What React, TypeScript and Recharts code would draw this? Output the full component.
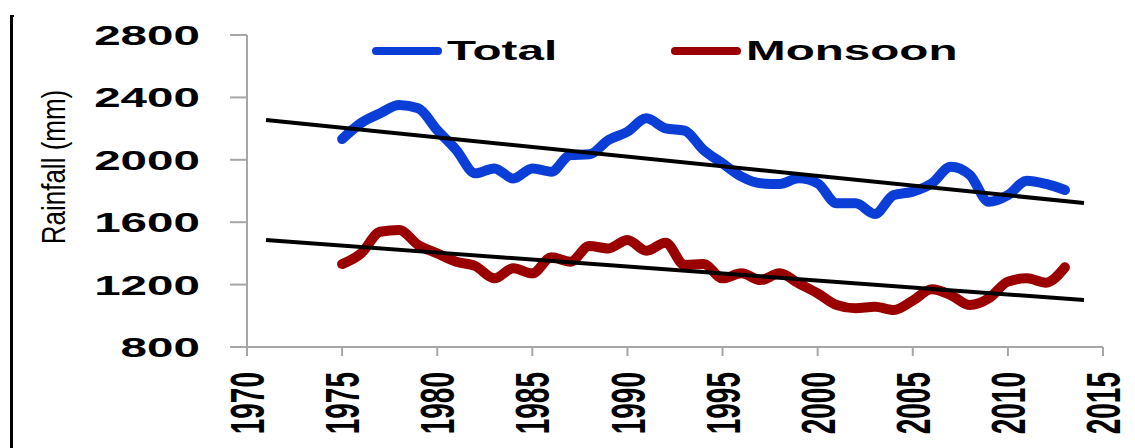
import { LineChart, Line, XAxis, YAxis, Legend } from 'recharts'

// ── Data ────────────────────────────────────────────────────────────────────

const years = [
  1975, 1976, 1977, 1978, 1979, 1980, 1981, 1982, 1983, 1984,
  1985, 1986, 1987, 1988, 1989, 1990, 1991, 1992, 1993, 1994,
  1995, 1996, 1997, 1998, 1999, 2000, 2001, 2002, 2003, 2004,
  2005, 2006, 2007, 2008, 2009, 2010, 2011, 2012, 2013,
]

const totalRain = [
  2133, 2236, 2298, 2351, 2330, 2190, 2063, 1913, 1945, 1880,
  1945, 1924, 2031, 2035, 2127, 2180, 2266, 2202, 2187, 2063,
  1977, 1892, 1849, 1845, 1881, 1849, 1721, 1721, 1653, 1774,
  1796, 1849, 1956, 1903, 1731, 1774, 1866, 1845, 1806,
]

const monsoonRain = [
  1332, 1400, 1539, 1550, 1454, 1400, 1347, 1319, 1240, 1305,
  1272, 1375, 1347, 1447, 1432, 1486, 1417, 1469, 1326, 1332,
  1240, 1272, 1229, 1272, 1208, 1144, 1069, 1048, 1058, 1037,
  1097, 1170, 1133, 1069, 1112, 1219, 1240, 1212, 1311,
]

const trendYears = [1971, 2014]
const totalTrend = [2255, 1723]
const monsoonTrend = [1486, 1101]

const xTicks = [1970, 1975, 1980, 1985, 1990, 1995, 2000, 2005, 2010, 2015]
const yTicks = [800, 1200, 1600, 2000, 2400, 2800]

const data = years.map((year, i) => ({ year, total: totalRain[i], monsoon: monsoonRain[i] }))
const totalTrendData = trendYears.map((year, i) => ({ year, value: totalTrend[i] }))
const monsoonTrendData = trendYears.map((year, i) => ({ year, value: monsoonTrend[i] }))

// ── Styling ─────────────────────────────────────────────────────────────────

const FONT = "'Liberation Sans', Arial, sans-serif"
const STRETCH = 1.7
const AXIS = '#a6a6a6'
const BLUE = '#0a3ed6'
const RED = '#9a0000'

// eslint-disable-next-line @typescript-eslint/no-explicit-any
const YTick = ({ x, y, payload }: any) => (
  <g transform={`translate(${x},${y}) scale(${STRETCH},1)`}>
    <text x={0} y={0} dy="0.36em" textAnchor="end" fontFamily={FONT} fontWeight="bold" fontSize={28} fill="#000">
      {payload.value}
    </text>
  </g>
)

// eslint-disable-next-line @typescript-eslint/no-explicit-any
const XTick = ({ x, y, payload }: any) => (
  <g transform={`translate(${x},${y}) scale(${STRETCH},1) rotate(-90)`}>
    <text x={0} y={0} dy="0.36em" textAnchor="end" fontFamily={FONT} fontWeight="bold" fontSize={28} fill="#000">
      {payload.value}
    </text>
  </g>
)

const YLabel = () => (
  <g transform="translate(53,167) scale(1.3,1) rotate(-90)">
    <text x={0} y={0} dy="0.36em" textAnchor="middle" fontFamily={FONT} fontSize={26} fill="#000">
      Rainfall (mm)
    </text>
  </g>
)

const legendKeys = ['total', 'monsoon']
const legendLeft = [372, 671]

// eslint-disable-next-line @typescript-eslint/no-explicit-any
const LegendContent = ({ payload }: any) => {
  // trend lines are left out of the legend
  // eslint-disable-next-line @typescript-eslint/no-explicit-any
  const items = (payload || []).filter((p: any) => legendKeys.includes(p.dataKey))
  return (
    <div style={{ position: 'relative', width: 1135, height: 80 }}>
      {/* eslint-disable-next-line @typescript-eslint/no-explicit-any */}
      {items.map((p: any) => {
        const idx = legendKeys.indexOf(p.dataKey)
        return (
          <div key={p.dataKey} style={{ position: 'absolute', left: legendLeft[idx], top: 36, height: 30, display: 'flex', alignItems: 'center' }}>
            <span style={{ display: 'inline-block', width: 70, height: 8, borderRadius: 4, background: p.color }} />
            <span
              style={{
                display: 'inline-block', marginLeft: 5, fontFamily: FONT, fontWeight: 'bold', fontSize: 28,
                color: '#000', transform: `scaleX(${STRETCH})`, transformOrigin: 'left center', whiteSpace: 'nowrap',
              }}
            >
              {p.value}
            </span>
          </div>
        )
      })}
    </div>
  )
}

// ── Component ───────────────────────────────────────────────────────────────

export default function App() {
  return (
    <div style={{ position: 'absolute', left: 0, top: 0, width: 1135, height: 448, background: '#fff' }}>
      <div style={{ position: 'absolute', left: 10, top: 15, width: 4, height: 433, borderLeft: '3px solid #000', borderTop: '2px solid #000', boxSizing: 'border-box' }} />
      <LineChart width={1135} height={448} data={data} margin={{ top: 35, right: 32, bottom: 0, left: 0 }}>
        <XAxis
          dataKey="year"
          type="number"
          domain={[1970, 2015]}
          ticks={xTicks}
          interval={0}
          height={101}
          tickSize={9}
          tickMargin={16}
          axisLine={{ stroke: AXIS, strokeWidth: 2 }}
          tickLine={{ stroke: AXIS, strokeWidth: 2 }}
          tick={<XTick />}
        />
        <YAxis
          type="number"
          domain={[800, 2800]}
          ticks={yTicks}
          interval={0}
          width={247}
          tickSize={17}
          tickMargin={30}
          axisLine={{ stroke: AXIS, strokeWidth: 2 }}
          tickLine={{ stroke: AXIS, strokeWidth: 2 }}
          tick={<YTick />}
          label={<YLabel />}
        />
        <Legend
          verticalAlign="middle"
          align="center"
          layout="horizontal"
          wrapperStyle={{ position: 'absolute', left: 0, top: 0, width: 1135, height: 80 }}
          content={<LegendContent />}
        />
        <Line dataKey="total" name="Total" type="monotone" stroke={BLUE} strokeWidth={10} strokeLinecap="round" dot={false} isAnimationActive={false} />
        <Line dataKey="monsoon" name="Monsoon" type="monotone" stroke={RED} strokeWidth={10} strokeLinecap="round" dot={false} isAnimationActive={false} />
        <Line data={totalTrendData} dataKey="value" name="Total trend" type="linear" stroke="#000" strokeWidth={4} dot={false} legendType="none" isAnimationActive={false} />
        <Line data={monsoonTrendData} dataKey="value" name="Monsoon trend" type="linear" stroke="#000" strokeWidth={4} dot={false} legendType="none" isAnimationActive={false} />
      </LineChart>
    </div>
  )
}
